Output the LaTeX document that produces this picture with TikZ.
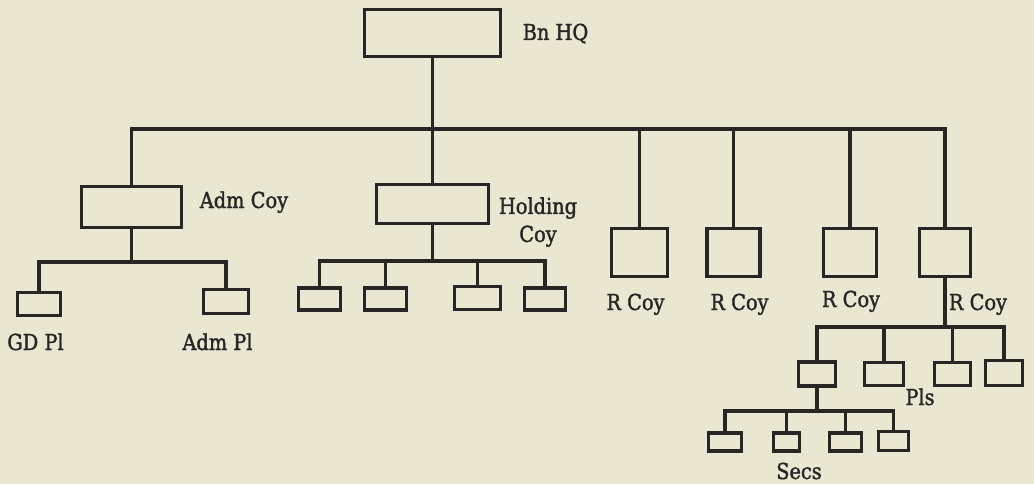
\documentclass[tikz,border=0pt]{standalone}
\usepackage{fontspec}
\setmainfont[FakeStretch=0.88,FakeBold=1.6]{DejaVu Serif}
\definecolor{paper}{RGB}{233,231,209}
\definecolor{ink}{RGB}{40,38,36}

\begin{document}
\begin{tikzpicture}[x=1pt,y=-1pt,
  box/.style={rectangle,draw=ink,line width=3.2pt,inner sep=0pt},
  link/.style={draw=ink,line width=3.2pt},
  lbl/.style={inner sep=0pt,anchor=base,text=ink,font=\fontsize{22}{28}\selectfont}]

  \fill[paper] (0,0) rectangle (1034,484);
  \useasboundingbox (0,0) rectangle (1034,484);

  % battalion and companies
  \node[box,minimum width=136pt,minimum height=47pt] (hq) at (432.5,33) {};
  \node[box,minimum width=100pt,minimum height=41pt] (adm) at (131.5,207) {};
  \node[box,minimum width=112pt,minimum height=39pt] (hold) at (432.5,204) {};
  \node[box,minimum width=56pt,minimum height=48pt] (r1) at (639.5,252.5) {};
  \node[box,minimum width=53pt,minimum height=48pt] (r2) at (733.5,252.5) {};
  \node[box,minimum width=53pt,minimum height=48pt] (r3) at (850,252.5) {};
  \node[box,minimum width=51pt,minimum height=48pt] (r4) at (945,252.5) {};

  % platoons
  \node[box,minimum width=43pt,minimum height=23pt] (gd) at (39,304) {};
  \node[box,minimum width=45pt,minimum height=24pt] (admpl) at (226,301.5) {};
  \node[box,minimum width=42pt,minimum height=22pt] (h1) at (319.5,299) {};
  \node[box,minimum width=42pt,minimum height=22pt] (h2) at (385.5,299) {};
  \node[box,minimum width=46pt,minimum height=23pt] (h3) at (477.5,298) {};
  \node[box,minimum width=41pt,minimum height=22pt] (h4) at (545,299) {};
  \node[box,minimum width=37pt,minimum height=24pt] (p1) at (817,374) {};
  \node[box,minimum width=39pt,minimum height=23pt] (p2) at (884,374) {};
  \node[box,minimum width=36pt,minimum height=23pt] (p3) at (952.5,374) {};
  \node[box,minimum width=37pt,minimum height=25pt] (p4) at (1004,373) {};

  % sections
  \node[box,minimum width=33pt,minimum height=18pt] (s1) at (725,442) {};
  \node[box,minimum width=26pt,minimum height=18pt] (s2) at (786.5,442) {};
  \node[box,minimum width=32pt,minimum height=18pt] (s3) at (845.5,442) {};
  \node[box,minimum width=30pt,minimum height=19pt] (s4) at (893.5,441) {};

  \coordinate (j1) at (432.5,129);
  \coordinate (j2) at (131.5,262);
  \coordinate (j3) at (432.5,261);
  \coordinate (j4) at (945,327);
  \coordinate (j5) at (817,411);

  \draw[link] (hq) -- (j1);
  \draw[link] (adm) |- (j1) -| (r4);
  \draw[link] (j1) -- (hold);
  \draw[link] (r1) -- (r1 |- j1);
  \draw[link] (r2) -- (r2 |- j1);
  \draw[link] (r3) -- (r3 |- j1);

  \draw[link] (adm) -- (j2);
  \draw[link] (gd) |- (j2) -| (admpl);
  \draw[link] (hold) -- (j3);
  \draw[link] (h1) |- (j3) -| (h4);
  \draw[link] (h2) -- (h2 |- j3);
  \draw[link] (h3) -- (h3 |- j3);

  \draw[link] (r4) -- (j4);
  \draw[link] (p1) |- (j4) -| (p4);
  \draw[link] (p2) -- (p2 |- j4);
  \draw[link] (p3) -- (p3 |- j4);

  \draw[link] (p1) -- (j5);
  \draw[link] (s1) |- (j5) -| (s4);
  \draw[link] (s2) -- (s2 |- j5);
  \draw[link] (s3) -- (s3 |- j5);

  % labels
  \node[lbl] (hqtxt) at (555.5,40) {Bn HQ};
  \node[lbl] (admtxt) at (244,208) {Adm Coy};
  \node[lbl,anchor=north,align=center] (holdtxt) at (538,197) {Holding\\Coy};
  \node[lbl] (r1txt) at (635.5,310) {R Coy};
  \node[lbl] (r2txt) at (739.5,310) {R Coy};
  \node[lbl] (r3txt) at (851,307) {R Coy};
  \node[lbl] (r4txt) at (978,310) {R Coy};
  \node[lbl] (gdtxt) at (35.5,350) {GD Pl};
  \node[lbl] (admpltxt) at (217.5,350) {Adm Pl};
  \node[lbl] (plstxt) at (920,405) {Pls};
  \node[lbl] (secstxt) at (799,479) {Secs};
\end{tikzpicture}
\end{document}
